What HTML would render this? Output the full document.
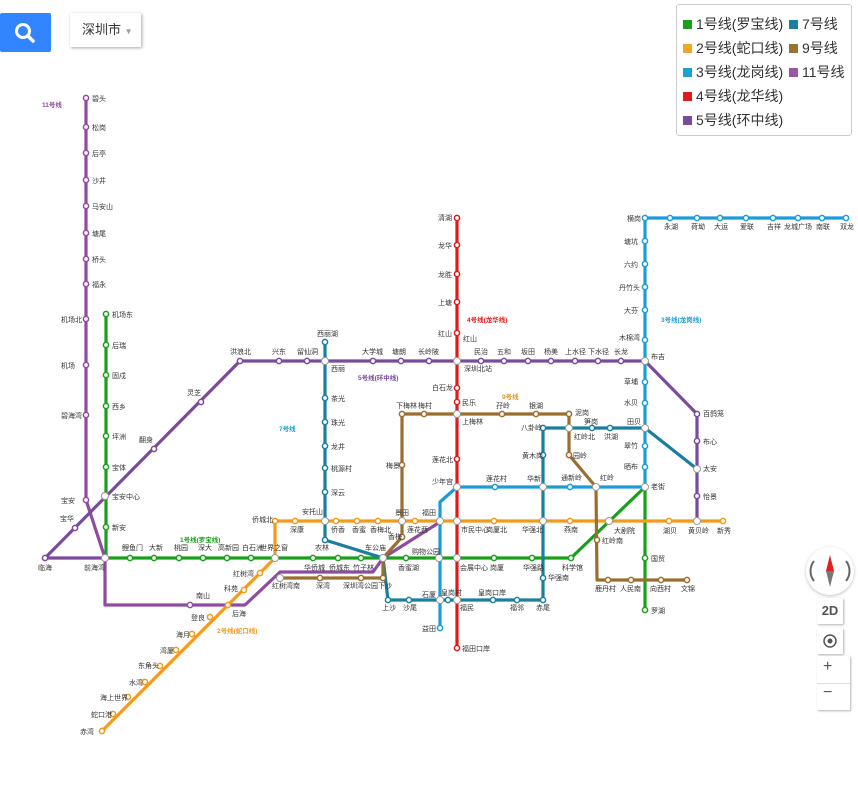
<!DOCTYPE html>
<html><head><meta charset="utf-8">
<style>
body{margin:0;width:858px;height:790px;background:#fff;overflow:hidden;position:relative;font-family:"Liberation Sans","Noto Sans CJK SC",sans-serif}
.btn{position:absolute;left:0;top:13px;width:51px;height:39px;background:#3385ff;border-radius:2px}
.city{position:absolute;left:70px;top:13px;width:71px;height:34px;background:#fff;box-shadow:1px 1px 3px rgba(0,0,0,.35);font-size:13px;color:#333;line-height:34px;text-indent:12px}
.legend{position:absolute;left:676px;top:4px;width:174px;height:130px;border:1px solid #ccc;border-radius:3px;background:#fff;font-size:14px;color:#333}
.legend div{position:absolute;white-space:nowrap}
.legend i{display:inline-block;width:9px;height:9px;margin-right:4px;vertical-align:0}
.ctl{position:absolute;background:#fff;box-shadow:1px 1px 2px rgba(0,0,0,.3)}
svg text{font-family:"Liberation Sans","Noto Sans CJK SC",sans-serif;font-size:7px;fill:#333}
</style></head><body>
<div class="btn"><svg width="51" height="39"><circle cx="23" cy="18" r="6.5" fill="none" stroke="#fff" stroke-width="3"/><line x1="28" y1="23" x2="33" y2="28" stroke="#fff" stroke-width="3.5" stroke-linecap="round"/></svg></div>
<div class="city">深圳市 <span style="font-size:8px;color:#999">▼</span></div>
<div class="legend">
<div style="left:6px;top:9px"><i style="background:#1a9f1a"></i>1号线(罗宝线)</div>
<div style="left:6px;top:33px"><i style="background:#f2a52a"></i>2号线(蛇口线)</div>
<div style="left:6px;top:57px"><i style="background:#1ca0d8"></i>3号线(龙岗线)</div>
<div style="left:6px;top:81px"><i style="background:#e01a1a"></i>4号线(龙华线)</div>
<div style="left:6px;top:105px"><i style="background:#7a4a9c"></i>5号线(环中线)</div>
<div style="left:112px;top:9px"><i style="background:#1a7fa0"></i>7号线</div>
<div style="left:112px;top:33px"><i style="background:#9a7035"></i>9号线</div>
<div style="left:112px;top:57px"><i style="background:#9a55a8"></i>11号线</div>
</div>

<svg width="858" height="790" style="position:absolute;left:0;top:0" fill="none" stroke-width="3.2" stroke-linejoin="round">
<!-- line 11 -->
<polyline stroke="#8e4ba0" points="86,98 86,500 105,558 105,605 245,605 280,572 373,572 383,558 440,522"/>
<!-- line 5 -->
<polyline stroke="#7a4a9c" points="105,558 45,558 240,361 645,361 697,414 697,521"/>
<!-- line 1 -->
<polyline stroke="#1a9f1a" points="106,314 106,558 571,558 645,487 645,610"/>
<!-- line 2 -->
<polyline stroke="#f29a1c" points="102,731 275,558 275,521 723,521"/>
<!-- line 3 -->
<polyline stroke="#1c9cd6" points="846,218 645,218 645,487 457,487 440,502 440,628"/>
<!-- line 4 -->
<polyline stroke="#e01a1a" points="457,218 457,648"/>
<!-- line 7 -->
<polyline stroke="#1a7ea0" points="325,342 325,540 383,558 388,600 543,600 543,428 645,428 697,469"/>
<!-- line 9 -->
<polyline stroke="#9a6f2e" points="280,578 383,578 383,558 402,537 402,414 569,414 569,455 596,487 597,580 687,580"/>

<g fill="#fff" stroke-width="1.5">
<g stroke="#8e4ba0">
<circle cx="86" cy="98" r="2.6"/><circle cx="86" cy="127" r="2.6"/><circle cx="86" cy="153" r="2.6"/><circle cx="86" cy="180" r="2.6"/><circle cx="86" cy="206" r="2.6"/><circle cx="86" cy="233" r="2.6"/><circle cx="86" cy="259" r="2.6"/><circle cx="86" cy="284" r="2.6"/><circle cx="86" cy="319" r="2.6"/><circle cx="86" cy="365" r="2.6"/><circle cx="86" cy="415" r="2.6"/><circle cx="86" cy="500" r="2.6"/><circle cx="190" cy="605" r="2.6"/>
</g>
<g stroke="#7a4a9c">
<circle cx="45" cy="558" r="2.6"/><circle cx="75" cy="528" r="2.6"/><circle cx="154" cy="449" r="2.6"/><circle cx="201" cy="402" r="2.6"/><circle cx="240" cy="361" r="2.6"/><circle cx="279" cy="361" r="2.6"/><circle cx="307" cy="361" r="2.6"/><circle cx="373" cy="361" r="2.6"/><circle cx="401" cy="361" r="2.6"/><circle cx="429" cy="361" r="2.6"/><circle cx="481" cy="361" r="2.6"/><circle cx="504" cy="361" r="2.6"/><circle cx="528" cy="361" r="2.6"/><circle cx="551" cy="361" r="2.6"/><circle cx="575" cy="361" r="2.6"/><circle cx="598" cy="361" r="2.6"/><circle cx="621" cy="361" r="2.6"/><circle cx="697" cy="414" r="2.6"/><circle cx="697" cy="441" r="2.6"/><circle cx="697" cy="496" r="2.6"/>
</g>
<g stroke="#1a9f1a">
<circle cx="106" cy="314" r="2.6"/><circle cx="106" cy="345" r="2.6"/><circle cx="106" cy="375" r="2.6"/><circle cx="106" cy="406" r="2.6"/><circle cx="106" cy="436" r="2.6"/><circle cx="106" cy="467" r="2.6"/><circle cx="106" cy="527" r="2.6"/><circle cx="130" cy="558" r="2.6"/><circle cx="154" cy="558" r="2.6"/><circle cx="179" cy="558" r="2.6"/><circle cx="203" cy="558" r="2.6"/><circle cx="227" cy="558" r="2.6"/><circle cx="251" cy="558" r="2.6"/><circle cx="313" cy="558" r="2.6"/><circle cx="338" cy="558" r="2.6"/><circle cx="361" cy="558" r="2.6"/><circle cx="406" cy="558" r="2.6"/><circle cx="494" cy="558" r="2.6"/><circle cx="532" cy="558" r="2.6"/><circle cx="571" cy="558" r="2.6"/><circle cx="645" cy="558" r="2.6"/><circle cx="645" cy="610" r="2.6"/>
</g>
<g stroke="#f29a1c">
<circle cx="102" cy="731" r="2.6"/><circle cx="113" cy="714" r="2.6"/><circle cx="128" cy="697" r="2.6"/><circle cx="145" cy="682" r="2.6"/><circle cx="160" cy="666" r="2.6"/><circle cx="176" cy="650" r="2.6"/><circle cx="192" cy="634" r="2.6"/><circle cx="210" cy="617" r="2.6"/><circle cx="228" cy="605" r="2.6"/><circle cx="244" cy="590" r="2.6"/><circle cx="260" cy="573" r="2.6"/><circle cx="275" cy="521" r="2.6"/><circle cx="295" cy="521" r="2.6"/><circle cx="336" cy="521" r="2.6"/><circle cx="357" cy="521" r="2.6"/><circle cx="378" cy="521" r="2.6"/><circle cx="415" cy="521" r="2.6"/><circle cx="494" cy="521" r="2.6"/><circle cx="570" cy="521" r="2.6"/><circle cx="669" cy="521" r="2.6"/><circle cx="723" cy="521" r="2.6"/>
</g>
<g stroke="#1c9cd6">
<circle cx="670" cy="218" r="2.6"/><circle cx="697" cy="218" r="2.6"/><circle cx="720" cy="218" r="2.6"/><circle cx="746" cy="218" r="2.6"/><circle cx="773" cy="218" r="2.6"/><circle cx="798" cy="218" r="2.6"/><circle cx="822" cy="218" r="2.6"/><circle cx="846" cy="218" r="2.6"/><circle cx="645" cy="218" r="2.6"/><circle cx="645" cy="241" r="2.6"/><circle cx="645" cy="264" r="2.6"/><circle cx="645" cy="287" r="2.6"/><circle cx="645" cy="310" r="2.6"/><circle cx="645" cy="340" r="2.6"/><circle cx="645" cy="382" r="2.6"/><circle cx="645" cy="403" r="2.6"/><circle cx="645" cy="446" r="2.6"/><circle cx="645" cy="467" r="2.6"/><circle cx="570" cy="487" r="2.6"/><circle cx="495" cy="487" r="2.6"/><circle cx="440" cy="628" r="2.6"/>
</g>
<g stroke="#e01a1a">
<circle cx="457" cy="218" r="2.6"/><circle cx="457" cy="245" r="2.6"/><circle cx="457" cy="274" r="2.6"/><circle cx="457" cy="302" r="2.6"/><circle cx="457" cy="333" r="2.6"/><circle cx="457" cy="388" r="2.6"/><circle cx="457" cy="402" r="2.6"/><circle cx="457" cy="459" r="2.6"/><circle cx="457" cy="648" r="2.6"/>
</g>
<g stroke="#1a7ea0">
<circle cx="325" cy="342" r="2.6"/><circle cx="325" cy="398" r="2.6"/><circle cx="325" cy="422" r="2.6"/><circle cx="325" cy="446" r="2.6"/><circle cx="325" cy="468" r="2.6"/><circle cx="325" cy="492" r="2.6"/><circle cx="325" cy="540" r="2.6"/><circle cx="388" cy="600" r="2.6"/><circle cx="409" cy="600" r="2.6"/><circle cx="448" cy="600" r="2.6"/><circle cx="493" cy="600" r="2.6"/><circle cx="517" cy="600" r="2.6"/><circle cx="543" cy="600" r="2.6"/><circle cx="543" cy="578" r="2.6"/><circle cx="543" cy="455" r="2.6"/><circle cx="543" cy="428" r="2.6"/><circle cx="592" cy="428" r="2.6"/><circle cx="610" cy="428" r="2.6"/>
</g>
<g stroke="#9a6f2e">
<circle cx="320" cy="578" r="2.6"/><circle cx="361" cy="578" r="2.6"/><circle cx="383" cy="578" r="2.6"/><circle cx="402" cy="537" r="2.6"/><circle cx="402" cy="465" r="2.6"/><circle cx="402" cy="414" r="2.6"/><circle cx="424" cy="414" r="2.6"/><circle cx="502" cy="414" r="2.6"/><circle cx="536" cy="414" r="2.6"/><circle cx="569" cy="414" r="2.6"/><circle cx="569" cy="455" r="2.6"/><circle cx="597" cy="540" r="2.6"/><circle cx="608" cy="580" r="2.6"/><circle cx="631" cy="580" r="2.6"/><circle cx="661" cy="580" r="2.6"/><circle cx="687" cy="580" r="2.6"/>
</g>
<g stroke="#999" stroke-width="1">
<circle cx="105" cy="558" r="3.5"/><circle cx="105" cy="496" r="3.5"/><circle cx="275" cy="558" r="3.5"/><circle cx="383" cy="558" r="3.5"/><circle cx="439" cy="558" r="3.5"/><circle cx="457" cy="558" r="3.5"/><circle cx="325" cy="361" r="3.5"/><circle cx="457" cy="361" r="3.5"/><circle cx="645" cy="361" r="3.5"/><circle cx="325" cy="521" r="3.5"/><circle cx="402" cy="521" r="3.5"/><circle cx="440" cy="521" r="3.5"/><circle cx="457" cy="521" r="3.5"/><circle cx="543" cy="521" r="3.5"/><circle cx="609" cy="521" r="3.5"/><circle cx="697" cy="521" r="3.5"/><circle cx="457" cy="414" r="3.5"/><circle cx="569" cy="428" r="3.5"/><circle cx="645" cy="428" r="3.5"/><circle cx="697" cy="469" r="3.5"/><circle cx="457" cy="487" r="3.5"/><circle cx="543" cy="487" r="3.5"/><circle cx="596" cy="487" r="3.5"/><circle cx="645" cy="487" r="3.5"/><circle cx="440" cy="600" r="3.5"/><circle cx="457" cy="600" r="3.5"/><circle cx="280" cy="578" r="3.5"/>
</g>
</g>

<g>
<text x="42" y="107" style="fill:#8e4ba0;font-weight:bold;font-size:6.5px">11号线</text>
<text x="180" y="542" style="fill:#1a9f1a;font-weight:bold;font-size:6.5px">1号线(罗宝线)</text>
<text x="217" y="633" style="fill:#f29a1c;font-weight:bold;font-size:6.5px">2号线(蛇口线)</text>
<text x="467" y="322" style="fill:#e01a1a;font-weight:bold;font-size:6.5px">4号线(龙华线)</text>
<text x="358" y="380" style="fill:#7a4a9c;font-weight:bold;font-size:6.5px">5号线(环中线)</text>
<text x="279" y="431" style="fill:#1c9cd6;font-weight:bold;font-size:6.5px">7号线</text>
<text x="502" y="399" style="fill:#d8962a;font-weight:bold;font-size:6.5px">9号线</text>
<text x="661" y="322" style="fill:#1c9cd6;font-weight:bold;font-size:6.5px">3号线(龙岗线)</text>

<text x="92" y="101">碧头</text><text x="92" y="130">松岗</text><text x="92" y="156">后亭</text><text x="92" y="183">沙井</text><text x="92" y="209">马安山</text><text x="92" y="236">塘尾</text><text x="92" y="262">桥头</text><text x="92" y="287">福永</text>
<text x="61" y="322">机场北</text><text x="61" y="368">机场</text><text x="61" y="418">碧海湾</text><text x="61" y="503">宝安</text><text x="60" y="521">宝华</text><text x="38" y="570">临海</text><text x="84" y="570">前海湾</text>
<text x="112" y="317">机场东</text><text x="112" y="348">后瑞</text><text x="112" y="378">固戍</text><text x="112" y="409">西乡</text><text x="112" y="439">坪洲</text><text x="112" y="470">宝体</text><text x="112" y="499">宝安中心</text><text x="112" y="530">新安</text>
<text x="139" y="442">翻身</text><text x="187" y="395">灵芝</text><text x="230" y="354">洪浪北</text><text x="272" y="354">兴东</text><text x="297" y="354">留仙洞</text><text x="317" y="336">西丽湖</text><text x="331" y="371">西丽</text>
<text x="362" y="354">大学城</text><text x="392" y="354">塘朗</text><text x="418" y="354">长岭陂</text><text x="463" y="341">红山</text><text x="464" y="371">深圳北站</text>
<text x="474" y="354">民治</text><text x="497" y="354">五和</text><text x="521" y="354">坂田</text><text x="544" y="354">杨美</text><text x="565" y="354">上水径</text><text x="588" y="354">下水径</text><text x="614" y="354">长龙</text><text x="651" y="359">布吉</text>
<text x="438" y="220">清湖</text><text x="438" y="248">龙华</text><text x="438" y="277">龙胜</text><text x="438" y="305">上塘</text><text x="438" y="336">红山</text>
<text x="432" y="390">白石龙</text><text x="462" y="405">民乐</text><text x="462" y="424">上梅林</text><text x="432" y="462">莲花北</text><text x="432" y="484">少年宫</text>
<text x="396" y="408">下梅林</text><text x="418" y="408">梅村</text><text x="496" y="408">孖岭</text><text x="529" y="408">银湖</text><text x="575" y="415">泥岗</text>
<text x="331" y="401">茶光</text><text x="331" y="425">珠光</text><text x="331" y="449">龙井</text><text x="331" y="471">桃源村</text><text x="331" y="495">深云</text><text x="302" y="514">安托山</text>
<text x="386" y="468">梅景</text><text x="395" y="515">景田</text><text x="422" y="515">福田</text><text x="252" y="522">侨城北</text><text x="290" y="532">深康</text><text x="331" y="532">侨香</text><text x="352" y="532">香蜜</text><text x="370" y="532">香梅北</text><text x="388" y="539">香梅</text><text x="407" y="532">莲花西</text>
<text x="461" y="532">市民中心</text><text x="486" y="532">岗厦北</text><text x="522" y="532">华强北</text><text x="564" y="532">燕南</text><text x="614" y="533">大剧院</text><text x="663" y="533">湖贝</text><text x="688" y="533">黄贝岭</text><text x="717" y="533">新秀</text>
<text x="486" y="481">莲花村</text><text x="527" y="481">华新</text><text x="561" y="480">通新岭</text><text x="600" y="480">红岭</text><text x="651" y="489">老街</text><text x="573" y="458">园岭</text><text x="602" y="543">红岭南</text>
<text x="521" y="430">八卦岭</text><text x="574" y="439">红岭北</text><text x="584" y="424">笋岗</text><text x="604" y="439">洪湖</text><text x="522" y="458">黄木岗</text><text x="627" y="424">田贝</text>
<text x="627" y="221">横岗</text><text x="664" y="229">永湖</text><text x="691" y="229">荷坳</text><text x="714" y="229">大运</text><text x="740" y="229">爱联</text><text x="767" y="229">吉祥</text><text x="784" y="229">龙城广场</text><text x="816" y="229">南联</text><text x="840" y="229">双龙</text>
<text x="624" y="244">塘坑</text><text x="624" y="267">六约</text><text x="619" y="290">丹竹头</text><text x="624" y="313">大芬</text><text x="619" y="340">木棉湾</text><text x="624" y="384">草埔</text><text x="624" y="405">水贝</text><text x="624" y="448">翠竹</text><text x="624" y="469">晒布</text>
<text x="703" y="416">百鸽笼</text><text x="703" y="444">布心</text><text x="703" y="471">太安</text><text x="703" y="499">怡景</text>
<text x="260" y="550">世界之窗</text><text x="315" y="550">农林</text><text x="365" y="550">车公庙</text><text x="412" y="554">购物公园</text>
<text x="122" y="550">鲤鱼门</text><text x="149" y="550">大新</text><text x="174" y="550">桃园</text><text x="198" y="550">深大</text><text x="218" y="550">高新园</text><text x="242" y="550">白石洲</text>
<text x="304" y="570">华侨城</text><text x="329" y="570">侨城东</text><text x="353" y="570">竹子林</text><text x="398" y="570">香蜜湖</text><text x="460" y="570">会展中心</text><text x="490" y="570">岗厦</text><text x="523" y="570">华强路</text><text x="562" y="570">科学馆</text><text x="651" y="561">国贸</text><text x="651" y="613">罗湖</text>
<text x="272" y="588">红树湾南</text><text x="316" y="588">深湾</text><text x="343" y="588">深圳湾公园</text><text x="378" y="588">下沙</text><text x="548" y="580">华强南</text>
<text x="382" y="610">上沙</text><text x="403" y="610">沙尾</text><text x="422" y="597">石厦</text><text x="441" y="595">皇岗村</text><text x="460" y="610">福民</text><text x="478" y="595">皇岗口岸</text><text x="510" y="610">福邻</text><text x="536" y="610">赤尾</text><text x="422" y="631">益田</text><text x="462" y="651">福田口岸</text>
<text x="595" y="591">鹿丹村</text><text x="620" y="591">人民南</text><text x="650" y="591">向西村</text><text x="681" y="591">文锦</text>
<text x="233" y="576">红树湾</text><text x="224" y="591">科苑</text><text x="196" y="598">南山</text><text x="232" y="616">后海</text><text x="191" y="620">登良</text><text x="176" y="637">海月</text><text x="160" y="653">湾厦</text><text x="138" y="668">东角头</text><text x="129" y="685">水湾</text><text x="100" y="700">海上世界</text><text x="91" y="717">蛇口港</text><text x="80" y="734">赤湾</text>
</g>
</svg>

<div style="position:absolute;left:806px;top:547px;width:48px;height:48px;border-radius:50%;background:#fff;box-shadow:0 1px 3px rgba(0,0,0,.25)">
<svg width="48" height="48"><path d="M8 14 A16 16 0 0 0 8 34 M40 14 A16 16 0 0 1 40 34" stroke="#666" stroke-width="2" fill="none"/><polygon points="24,8 20,24 28,24" fill="#e02020"/><polygon points="24,40 20,24 28,24" fill="#777"/></svg></div>
<div class="ctl" style="left:817px;top:598px;width:26px;height:26px;font:bold 13px 'Liberation Sans',sans-serif;color:#555;text-align:center;line-height:26px">2D</div>
<div class="ctl" style="left:817px;top:628px;width:26px;height:26px;text-align:center"><svg width="26" height="26"><circle cx="13" cy="13" r="6" stroke="#555" stroke-width="1.5" fill="none"/><circle cx="13" cy="13" r="2.5" fill="#555"/></svg></div>
<div class="ctl" style="left:817px;top:656px;width:33px;height:54px;font:16px 'Liberation Sans',sans-serif;color:#555"><div style="position:absolute;left:6px;top:2px">+</div><div style="position:absolute;left:0;top:27px;width:33px;border-top:1px solid #ddd"></div><div style="position:absolute;left:6px;top:28px">−</div></div>
</body></html>
